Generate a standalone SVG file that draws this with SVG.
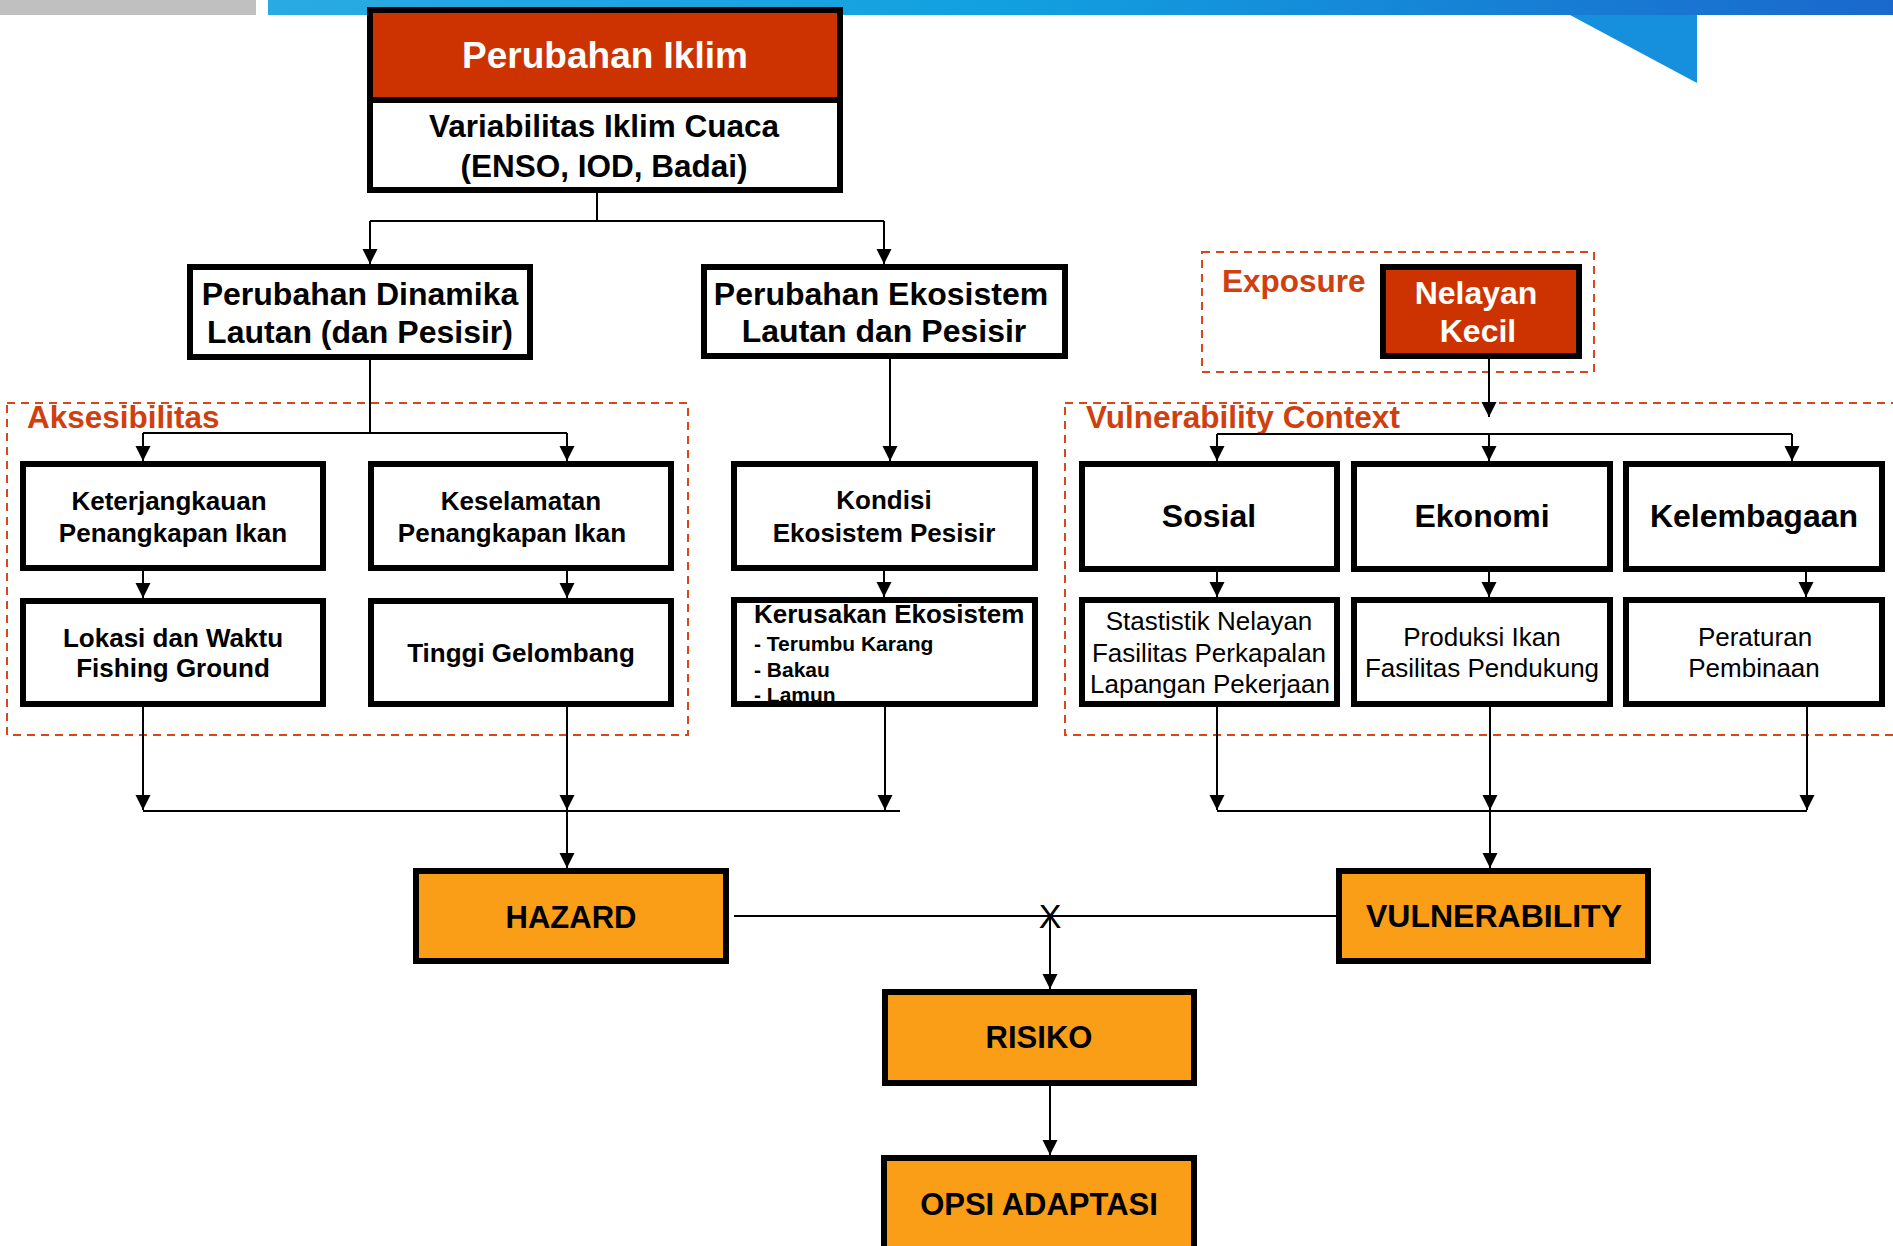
<svg xmlns="http://www.w3.org/2000/svg" width="1893" height="1246" viewBox="0 0 1893 1246">
<defs>
<linearGradient id="bluebar" x1="0" y1="0" x2="1" y2="0">
<stop offset="0" stop-color="#2aaae2"/>
<stop offset="0.45" stop-color="#12a0e0"/>
<stop offset="1" stop-color="#1a68cc"/>
</linearGradient>
<marker id="ah" markerWidth="16" markerHeight="16" refX="15" refY="7.5" orient="auto" markerUnits="userSpaceOnUse" viewBox="0 0 16 16">
<path d="M0,0 L15,7.5 L0,15 z" fill="#000"/>
</marker>
<style>
text{font-family:"Liberation Sans",Arial,Helvetica,sans-serif;}
.box{fill:#fff;stroke:#000;stroke-width:6;}
.red{fill:#cc3300;stroke:#000;stroke-width:6;}
.org{fill:#fa9e18;stroke:#000;stroke-width:6;}
.dash{fill:none;stroke:#d9461b;stroke-width:2;stroke-dasharray:8 6;}
.lbl{fill:#d0400f;font-weight:bold;font-size:31.5px;}
.b32{font-weight:bold;font-size:32px;fill:#000;text-anchor:middle;}
.b31{font-weight:bold;font-size:31px;fill:#000;text-anchor:middle;}
.b26{font-weight:bold;font-size:26px;fill:#000;text-anchor:middle;}
.r26{font-size:26px;fill:#000;text-anchor:middle;}
.w{fill:#fff;}
.ln{fill:none;stroke:#000;stroke-width:2;}
.arr{fill:none;stroke:#000;stroke-width:2;marker-end:url(#ah);}
</style>
</defs>

<g id="header">
<rect x="0" y="0" width="256" height="15" fill="#c0c0c0"/>
<rect x="268" y="0" width="1625" height="15" fill="url(#bluebar)"/>
<polygon points="1570,15 1697,15 1697,83" fill="#1690dd"/>
</g>

<g id="zones">
<rect class="dash" x="7" y="403" width="681" height="332"/>
<text class="lbl" x="27" y="428">Aksesibilitas</text>
<rect class="dash" x="1202" y="252" width="392" height="120"/>
<text class="lbl" x="1222" y="292">Exposure</text>
<rect class="dash" x="1065" y="403" width="850" height="332"/>
<text class="lbl" x="1086" y="428">Vulnerability Context</text>
</g>

<g id="connectors">
<path class="ln" d="M597,193 V221 M370,221 H884"/>
<path class="arr" d="M370,221 V264"/>
<path class="arr" d="M884,221 V264"/>
<path class="ln" d="M370,360 V433 M143,433 H567"/>
<path class="arr" d="M143,433 V461"/>
<path class="arr" d="M567,433 V461"/>
<path class="arr" d="M143,571 V598"/>
<path class="arr" d="M567,571 V598"/>
<path class="arr" d="M143,707 V810"/>
<path class="arr" d="M567,707 V810"/>
<path class="arr" d="M885,707 V810"/>
<path class="ln" d="M143,811 H900"/>
<path class="arr" d="M567,811 V868"/>
<path class="arr" d="M890,359 V461"/>
<path class="arr" d="M884,571 V597"/>
<path class="arr" d="M1489,359 V417"/>
<path class="ln" d="M1217,434 H1792"/>
<path class="arr" d="M1217,434 V461"/>
<path class="arr" d="M1489,434 V461"/>
<path class="arr" d="M1792,434 V461"/>
<path class="arr" d="M1217,572 V597"/>
<path class="arr" d="M1489,572 V597"/>
<path class="arr" d="M1806,572 V597"/>
<path class="arr" d="M1217,707 V810"/>
<path class="arr" d="M1490,707 V810"/>
<path class="arr" d="M1807,707 V810"/>
<path class="ln" d="M1217,811 H1807"/>
<path class="arr" d="M1490,811 V868"/>
<path class="ln" d="M734,916 H1336"/>
<path class="arr" d="M1050,916 V989"/>
<path class="arr" d="M1050,1086 V1155"/>
<text x="1050" y="928" font-size="34" text-anchor="middle" fill="#000">X</text>
</g>

<g id="perubahan-iklim">
<rect class="red" x="370" y="10" width="470" height="90"/>
<text class="b32 w" x="605" y="68" style="font-size:37px">Perubahan Iklim</text>
</g>
<g id="variabilitas">
<rect class="box" x="370" y="100" width="470" height="90"/>
<text class="b32" x="604" y="137" style="font-size:31.5px">Variabilitas Iklim Cuaca</text>
<text class="b32" x="604" y="177" style="font-size:31.5px">(ENSO, IOD, Badai)</text>
</g>

<g id="dinamika">
<rect class="box" x="190" y="267" width="340" height="90"/>
<text class="b32" x="360" y="305">Perubahan Dinamika</text>
<text class="b32" x="360" y="343">Lautan (dan Pesisir)</text>
</g>
<g id="ekosistem">
<rect class="box" x="704" y="267" width="361" height="89"/>
<text class="b32" x="881" y="305">Perubahan Ekosistem</text>
<text class="b32" x="884" y="342">Lautan dan Pesisir</text>
</g>

<g id="keterjangkauan">
<rect class="box" x="23" y="464" width="300" height="104"/>
<text class="b26" x="169" y="510">Keterjangkauan</text>
<text class="b26" x="173" y="542">Penangkapan Ikan</text>
</g>
<g id="keselamatan">
<rect class="box" x="371" y="464" width="300" height="104"/>
<text class="b26" x="521" y="510">Keselamatan</text>
<text class="b26" x="512" y="542">Penangkapan Ikan</text>
</g>
<g id="lokasi">
<rect class="box" x="23" y="601" width="300" height="103"/>
<text class="b26" x="173" y="647">Lokasi dan Waktu</text>
<text class="b26" x="173" y="677">Fishing Ground</text>
</g>
<g id="tinggi">
<rect class="box" x="371" y="601" width="300" height="103"/>
<text class="b26" x="521" y="662">Tinggi Gelombang</text>
</g>

<g id="kondisi">
<rect class="box" x="734" y="464" width="301" height="104"/>
<text class="b26" x="884" y="509">Kondisi</text>
<text class="b26" x="884" y="542">Ekosistem Pesisir</text>
</g>
<g id="kerusakan">
<rect class="box" x="734" y="600" width="301" height="104" style="stroke:none"/>
<text x="754" y="623" font-weight="bold" font-size="26" fill="#000">Kerusakan Ekosistem</text>
<text x="754" y="651" font-weight="bold" font-size="21" fill="#000">- Terumbu Karang</text>
<text x="754" y="677" font-weight="bold" font-size="21" fill="#000">- Bakau</text>
<text x="754" y="702" font-weight="bold" font-size="21" fill="#000">- Lamun</text>
<rect x="734" y="600" width="301" height="104" fill="none" stroke="#000" stroke-width="6"/>
</g>

<g id="nelayan">
<rect class="red" x="1383" y="267" width="196" height="89"/>
<text class="b32 w" x="1476" y="304">Nelayan</text>
<text class="b32 w" x="1478" y="342">Kecil</text>
</g>

<g id="sosial">
<rect class="box" x="1082" y="464" width="255" height="105"/>
<text class="b32" x="1209" y="527">Sosial</text>
</g>
<g id="ekonomi">
<rect class="box" x="1354" y="464" width="256" height="105"/>
<text class="b32" x="1482" y="527">Ekonomi</text>
</g>
<g id="kelembagaan">
<rect class="box" x="1626" y="464" width="256" height="105"/>
<text class="b32" x="1754" y="527">Kelembagaan</text>
</g>

<g id="sosial-detail">
<rect class="box" x="1082" y="600" width="255" height="104"/>
<text class="r26" x="1209" y="630">Stastistik Nelayan</text>
<text class="r26" x="1209" y="662">Fasilitas Perkapalan</text>
<text class="r26" x="1210" y="693">Lapangan Pekerjaan</text>
</g>
<g id="ekonomi-detail">
<rect class="box" x="1354" y="600" width="256" height="104"/>
<text class="r26" x="1482" y="646">Produksi Ikan</text>
<text class="r26" x="1482" y="677">Fasilitas Pendukung</text>
</g>
<g id="kelembagaan-detail">
<rect class="box" x="1626" y="600" width="256" height="104"/>
<text class="r26" x="1755" y="646">Peraturan</text>
<text class="r26" x="1754" y="677">Pembinaan</text>
</g>

<g id="hazard">
<rect class="org" x="416" y="871" width="310" height="90"/>
<text class="b31" x="571" y="928">HAZARD</text>
</g>
<g id="vulnerability">
<rect class="org" x="1339" y="871" width="309" height="90"/>
<text class="b32" x="1494" y="927">VULNERABILITY</text>
</g>
<g id="risiko">
<rect class="org" x="885" y="992" width="309" height="91"/>
<text class="b31" x="1039" y="1048">RISIKO</text>
</g>
<g id="opsi-adaptasi">
<rect class="org" x="884" y="1158" width="310" height="120"/>
<text class="b31" x="1039" y="1215">OPSI ADAPTASI</text>
</g>
</svg>
